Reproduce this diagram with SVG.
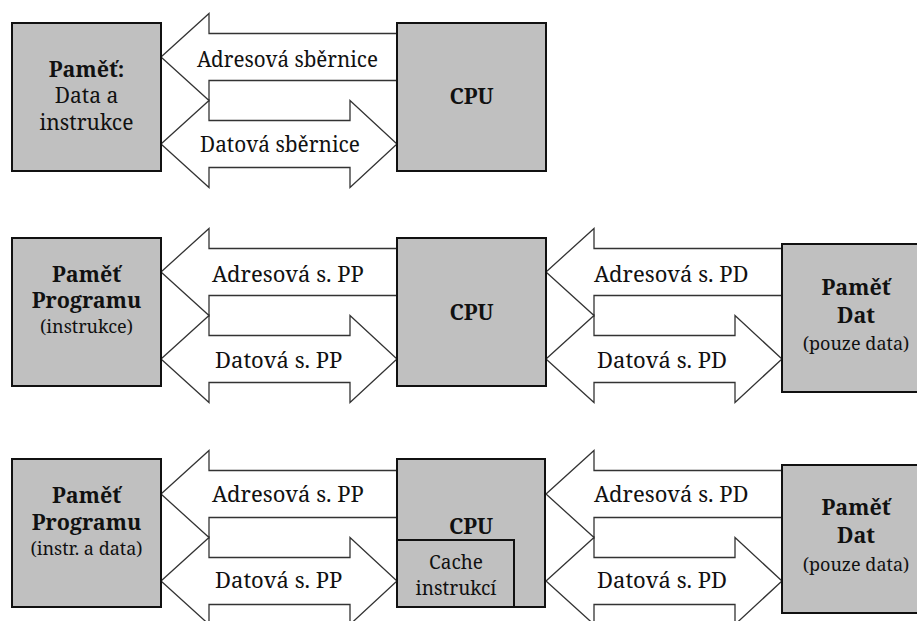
<svg xmlns="http://www.w3.org/2000/svg" xmlns:xlink="http://www.w3.org/1999/xlink" width="917" height="621" viewBox="0 0 917 621">
<style>
  .box { fill: #c0c0c0; stroke: #111; stroke-width: 2; }
  .arr { fill: #fff; stroke: #333; stroke-width: 1.3; stroke-linejoin: miter; }
  text { font-family: "Noto Serif", "DejaVu Serif", "Liberation Serif", serif; fill: #111; }
  .t { font-size: 22px; }
  .r { font-size: 21px; }
  .b { font-size: 21.5px; font-weight: bold; }
  .s { font-size: 18px; }
  .c { font-size: 19px; }
  .m { text-anchor: middle; }
</style>
<defs>
  <polygon id="addr" class="arr" points="0,0 48,-43.5 48,-23.5 236,-23.5 236,23.5 48,23.5 48,43.5"/>
  <polygon id="data" class="arr" points="0,0 48,-43.5 48,-23.5 189,-23.5 189,-43.5 236,0 189,43.5 189,23.5 48,23.5 48,43.5"/>
</defs>
<rect width="917" height="621" fill="#fff"/>
<g id="connectors">
  <use xlink:href="#addr" x="161" y="57"/>
  <use xlink:href="#data" x="161" y="144"/>
  <use xlink:href="#addr" x="161" y="272"/>
  <use xlink:href="#data" x="161" y="359"/>
  <use xlink:href="#addr" x="546" y="272"/>
  <use xlink:href="#data" x="546" y="359"/>
  <use xlink:href="#addr" x="161" y="494"/>
  <use xlink:href="#data" x="161" y="581"/>
  <use xlink:href="#addr" x="546" y="494"/>
  <use xlink:href="#data" x="546" y="581"/>
  <text class="t" x="197" y="67" textLength="181" lengthAdjust="spacingAndGlyphs">Adresová sběrnice</text>
  <text class="t" x="200" y="152" textLength="160" lengthAdjust="spacingAndGlyphs">Datová sběrnice</text>
  <text class="t" x="212" y="282">Adresová s. PP</text>
  <text class="t" x="215" y="368">Datová s. PP</text>
  <text class="t" x="594" y="282">Adresová s. PD</text>
  <text class="t" x="597" y="368">Datová s. PD</text>
  <text class="t" x="212" y="502">Adresová s. PP</text>
  <text class="t" x="215" y="588">Datová s. PP</text>
  <text class="t" x="594" y="502">Adresová s. PD</text>
  <text class="t" x="597" y="588">Datová s. PD</text>
</g>
<g id="mem1">
  <rect class="box" x="12" y="23" width="149" height="148"/>
  <text class="b m" x="86.5" y="77">Paměť:</text>
  <text class="r m" x="86.5" y="103">Data a</text>
  <text class="r m" x="86.5" y="130">instrukce</text>
</g>
<g id="cpu1">
  <rect class="box" x="397" y="23" width="149" height="148"/>
  <text class="b m" x="471.5" y="104">CPU</text>
</g>
<g id="memprog2">
  <rect class="box" x="12" y="238" width="149" height="148"/>
  <text class="b m" x="86.5" y="282">Paměť</text>
  <text class="b m" x="86.5" y="308">Programu</text>
  <text class="s m" x="86.5" y="333">(instrukce)</text>
</g>
<g id="cpu2">
  <rect class="box" x="397" y="238" width="149" height="148"/>
  <text class="b m" x="471.5" y="320">CPU</text>
</g>
<g id="memdat2">
  <rect class="box" x="782" y="244" width="149" height="148"/>
  <text class="b m" x="856" y="295">Paměť</text>
  <text class="b m" x="856" y="323">Dat</text>
  <text class="s m" x="856" y="350">(pouze data)</text>
</g>
<g id="memprog3">
  <rect class="box" x="12" y="459" width="149" height="148"/>
  <text class="b m" x="86.5" y="503">Paměť</text>
  <text class="b m" x="86.5" y="530">Programu</text>
  <text class="s m" x="86.5" y="555">(instr. a data)</text>
</g>
<g id="cpu3">
  <rect class="box" x="397" y="459" width="148" height="148"/>
  <text class="b m" x="471" y="534">CPU</text>
</g>
<g id="cache3">
  <rect class="box" x="397" y="540" width="117" height="67"/>
  <text class="c m" x="456" y="569">Cache</text>
  <text class="c m" x="456" y="595">instrukcí</text>
</g>
<g id="memdat3">
  <rect class="box" x="782" y="465" width="149" height="148"/>
  <text class="b m" x="856" y="515">Paměť</text>
  <text class="b m" x="856" y="543">Dat</text>
  <text class="s m" x="856" y="571">(pouze data)</text>
</g>
</svg>
